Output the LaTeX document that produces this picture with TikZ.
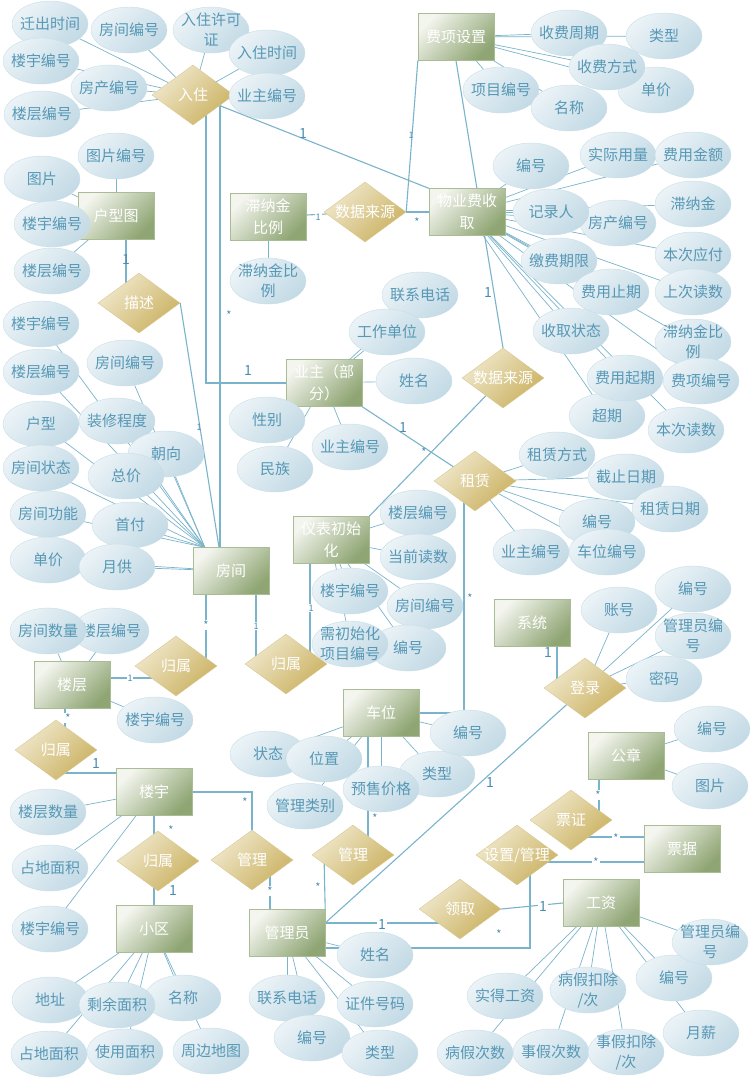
\documentclass[tikz,border=0pt]{standalone}
\usepackage{fontspec}
\setmainfont{Noto Sans CJK SC}
\usetikzlibrary{shapes.geometric}
\usetikzlibrary{backgrounds}
\usetikzlibrary{calc}
\definecolor{attrtop}{RGB}{235,243,247}
\definecolor{attrbot}{RGB}{195,218,229}
\definecolor{attrline}{RGB}{200,222,232}
\definecolor{attrtext}{RGB}{86,152,182}
\definecolor{enttop}{RGB}{243,245,238}
\definecolor{entbot}{RGB}{143,165,115}
\definecolor{entline}{RGB}{170,188,150}
\definecolor{reltop}{RGB}{240,232,204}
\definecolor{relbot}{RGB}{203,178,98}
\definecolor{relline}{RGB}{216,200,145}
\definecolor{linkc}{RGB}{122,180,204}
\definecolor{cardc}{RGB}{74,140,176}
\tikzset{
  attr/.style={ellipse, draw=attrline, top color=attrtop, bottom color=attrbot, shading angle=45,
    minimum width=76pt, minimum height=46pt, inner xsep=-10pt, inner ysep=-8pt,
    text=attrtext, align=center, font=\fontsize{15}{20}\selectfont},
  entity/.style={draw=entline, top color=enttop, bottom color=entbot, shading angle=45,
    minimum width=76pt, minimum height=47pt, inner sep=0pt,
    text=white, align=center, font=\fontsize{15}{22}\selectfont},
  rel/.style={diamond, draw=relline, top color=reltop, bottom color=relbot, shading angle=45,
    minimum width=82pt, minimum height=60pt, inner sep=-6pt,
    text=white, font=\fontsize{15}{18}\selectfont},
  link/.style={draw=linkc, line width=0.7pt},
  tie/.style={draw=linkc, line width=1.1pt},
  one/.style={text=cardc, inner sep=1pt, font=\fontsize{14}{14}\selectfont},
  onesm/.style={text=cardc, inner sep=1pt, font=\fontsize{9}{9}\selectfont},
  many/.style={text=cardc, inner sep=1pt, font=\fontsize{11}{11}\selectfont},
}
\begin{document}
\begin{tikzpicture}[x=1pt,y=-1pt]
\useasboundingbox (0,0) rectangle (752,1080);
\begin{pgfonlayer}{background}
  \fill[white] (0,0) rectangle (752,1080);
\end{pgfonlayer}

\node[entity] (feeset) at (456,37) {费项设置};
\node[entity] (layout) at (116,216) {户型图};
\node[entity] (latefee) at (268,217) {滞纳金\\比例};
\node[entity] (feecol) at (467,212) {物业费收\\取};
\node[entity] (owner) at (324,383) {业主（部\\分）};
\node[entity] (meter) at (331,540) {仪表初始\\化};
\node[entity] (room) at (231,571) {房间};
\node[entity] (system) at (532,623) {系统};
\node[entity] (floor) at (72,685) {楼层};
\node[entity] (carport) at (381,713) {车位};
\node[entity] (seal) at (626,756) {公章};
\node[entity] (building) at (154,792) {楼宇};
\node[entity] (bill) at (682,849) {票据};
\node[entity] (salary) at (601,903) {工资};
\node[entity] (estate) at (154,929) {小区};
\node[entity] (admin) at (287,933) {管理员};

\node[rel] (checkin) at (193,95) {入住};
\node[rel] (source1) at (365,212) {\makebox[0pt]{数据来源}};
\node[rel] (source2) at (503,378) {\makebox[0pt]{数据来源}};
\node[rel] (describe) at (139,303) {描述};
\node[rel] (lease) at (475,481) {租赁};
\node[rel] (belongroom) at (176,666) {归属};
\node[rel] (belongmeter) at (286,664) {归属};
\node[rel] (belongfloor) at (56,750) {归属};
\node[rel] (belongbuild) at (158,861) {归属};
\node[rel] (managebd) at (252,860) {管理};
\node[rel] (managecp) at (353,855) {管理};
\node[rel] (login) at (585,688) {登录};
\node[rel] (issue) at (571,820) {票证};
\node[rel] (setup) at (517,855) {\makebox[0pt]{设置/管理}};
\node[rel] (receive) at (460,909) {领取};

\node[attr] (ci1) at (50,24) {迁出时间};
\node[attr] (ci5) at (41,61) {楼宇编号};
\node[attr] (ci2) at (129,30) {房间编号};
\node[attr] (ci3) at (211,30) {入住许可\\证};
\node[attr] (ci4) at (267,53) {入住时间};
\node[attr] (ci6) at (109,88) {房产编号};
\node[attr] (ci7) at (42,114) {楼层编号};
\node[attr] (ci8) at (267,96) {业主编号};

\node[attr] (fs2) at (664,36) {类型};
\node[attr] (fs4) at (656,90) {单价};
\node[attr] (fs1) at (569,33) {收费周期};
\node[attr] (fs3) at (607,67) {收费方式};
\node[attr] (fs5) at (501,90) {项目编号};
\node[attr] (fs6) at (569,108) {名称};

\node[attr] (lf1) at (268,281) {滞纳金比\\例};

\node[attr] (fc1) at (531,166) {编号};
\node[attr] (fc2) at (618,155) {实际用量};
\node[attr] (fc3) at (693,155) {费用金额};
\node[attr] (fc6) at (693,204) {滞纳金};
\node[attr] (fc5) at (618,223) {房产编号};
\node[attr] (fc4) at (551,212) {记录人};
\node[attr] (fc7) at (693,255) {本次应付};
\node[attr] (fc8) at (559,261) {缴费期限};
\node[attr] (fc9) at (693,292) {上次读数};
\node[attr] (fc10) at (611,292) {费用止期};
\node[attr] (fc11) at (571,331) {收取状态};
\node[attr] (fc12) at (693,342) {滞纳金比\\例};
\node[attr] (fc15) at (607,416) {超期};
\node[attr] (fc13) at (625,378) {费用起期};
\node[attr] (fc14) at (701,381) {费项编号};
\node[attr] (fc16) at (686,430) {本次读数};

\node[attr] (ow1) at (420,295) {联系电话};
\node[attr] (ow2) at (387,332) {工作单位};
\node[attr] (ow3) at (414,381) {姓名};
\node[attr] (ow4) at (267,420) {性别};
\node[attr] (ow5) at (275,469) {民族};
\node[attr] (ow6) at (350,447) {业主编号};

\node[attr] (mt1) at (418,513) {楼层编号};
\node[attr] (mt2) at (418,557) {当前读数};
\node[attr] (mt3) at (350,591) {楼宇编号};
\node[attr] (mt4) at (425,606) {房间编号};
\node[attr] (mt6) at (408,648) {编号};
\node[attr] (mt5) at (350,644) {需初始化\\项目编号};

\node[attr] (ls1) at (557,455) {租赁方式};
\node[attr] (ls2) at (626,477) {截止日期};
\node[attr] (ls4) at (597,522) {编号};
\node[attr] (ls3) at (670,509) {租赁日期};
\node[attr] (ls5) at (531,552) {业主编号};
\node[attr] (ls6) at (607,552) {车位编号};

\node[attr] (ly1) at (116,156) {图片编号};
\node[attr] (ly2) at (42,179) {图片};
\node[attr] (ly3) at (52,224) {楼宇编号};
\node[attr] (ly4) at (52,271) {楼层编号};

\node[attr] (rm1) at (41,324) {楼宇编号};
\node[attr] (rm2) at (41,372) {楼层编号};
\node[attr] (rm3) at (125,363) {房间编号};
\node[attr] (rm4) at (41,424) {户型};
\node[attr] (rm5) at (117,421) {装修程度};
\node[attr] (rm6) at (166,454) {朝向};
\node[attr] (rm7) at (41,468) {房间状态};
\node[attr] (rm8) at (126,476) {总价};
\node[attr] (rm9) at (48,514) {房间功能};
\node[attr] (rm10) at (130,525) {首付};
\node[attr] (rm11) at (48,560) {单价};
\node[attr] (rm12) at (117,567) {月供};

\node[attr] (fl2) at (111,631) {楼层编号};
\node[attr] (fl1) at (48,631) {房间数量};
\node[attr] (fl3) at (155,720) {楼宇编号};

\node[attr] (bd1) at (48,812) {楼层数量};
\node[attr] (bd2) at (50,868) {占地面积};
\node[attr] (bd3) at (50,929) {楼宇编号};

\node[attr] (es1) at (50,1000) {地址};
\node[attr] (es3) at (183,998) {名称};
\node[attr] (es2) at (117,1005) {剩余面积};
\node[attr] (es4) at (49,1054) {占地面积};
\node[attr] (es5) at (125,1052) {使用面积};
\node[attr] (es6) at (211,1051) {周边地图};

\node[attr] (cp5) at (268,754) {状态};
\node[attr] (cp4) at (324,759) {位置};
\node[attr] (cp6) at (305,806) {管理类别};
\node[attr] (cp2) at (437,774) {类型};
\node[attr] (cp3) at (381,789) {预售价格};
\node[attr] (cp1) at (468,733) {编号};

\node[attr] (ad1) at (375,955) {姓名};
\node[attr] (ad2) at (287,998) {联系电话};
\node[attr] (ad3) at (375,1004) {证件号码};
\node[attr] (ad4) at (312,1038) {编号};
\node[attr] (ad5) at (380,1053) {类型};

\node[attr] (lg1) at (619,610) {账号};
\node[attr] (lg2) at (693,589) {编号};
\node[attr] (lg3) at (693,636) {管理员编\\号};
\node[attr] (lg4) at (664,679) {密码};

\node[attr] (sl1) at (712,729) {编号};
\node[attr] (sl2) at (710,786) {图片};

\node[attr] (sa2) at (674,978) {编号};
\node[attr] (sa1) at (710,942) {管理员编\\号};
\node[attr] (sa3) at (701,1033) {月薪};
\node[attr] (sa4) at (588,990) {病假扣除\\/次};
\node[attr] (sa5) at (505,996) {实得工资};
\node[attr] (sa6) at (475,1053) {病假次数};
\node[attr] (sa7) at (551,1052) {事假次数};
\node[attr] (sa8) at (626,1052) {事假扣除\\/次};

\begin{pgfonlayer}{background}
  \foreach \a in {ci1,ci2,ci3,ci4,ci5,ci6,ci7,ci8} \draw[link] (\a) -- (checkin);
  \foreach \a in {fs1,fs2,fs3,fs4,fs5,fs6} \draw[link] (\a) -- (feeset);
  \draw[link] (lf1) -- (latefee);
  \foreach \a in {fc1,fc2,fc3,fc4,fc5,fc6,fc7,fc8,fc9,fc10,fc11,fc12,fc13,fc14,fc15,fc16}
    \draw[link] (\a) -- (feecol);
  \foreach \a in {ow1,ow2,ow3,ow4,ow5,ow6} \draw[link] (\a) -- (owner);
  \foreach \a in {mt1,mt2,mt3,mt4,mt5,mt6} \draw[link] (\a) -- (meter);
  \foreach \a in {ls1,ls2,ls3,ls4,ls5,ls6} \draw[link] (\a) -- (lease);
  \foreach \a in {ly1,ly2,ly3,ly4} \draw[link] (\a) -- (layout);
  \foreach \a in {rm1,rm2,rm3,rm4,rm5,rm6,rm7,rm8,rm9,rm10}
    \draw[link] (\a) -- ($(room.north west)+(12,0)$);
  \foreach \a in {rm11,rm12} \draw[link] (\a) -- (room);
  \foreach \a in {fl1,fl2,fl3} \draw[link] (\a) -- (floor);
  \foreach \a in {bd1,bd2,bd3} \draw[link] (\a) -- (building);
  \foreach \a in {es1,es2,es3,es4,es5,es6} \draw[link] (\a) -- (estate);
  \foreach \a in {cp1,cp2,cp3,cp4,cp5,cp6} \draw[link] (\a) -- (carport);
  \foreach \a in {ad1,ad2,ad3,ad4,ad5} \draw[link] (\a) -- (admin);
  \foreach \a in {lg1,lg2,lg3,lg4} \draw[link] (\a) -- (login);
  \foreach \a in {sl1,sl2} \draw[link] (\a) -- (seal);
  \foreach \a in {sa1,sa2,sa3,sa4,sa5,sa6,sa7,sa8} \draw[link] (\a) -- (salary);

  \draw[tie] ($(checkin.center)+(13,0)$) |- (owner.west);
  \draw[tie] ($(checkin.center)+(27,0)$) -- ($(room.north)+(-11,0)$);
  \draw[tie] (checkin) -- (feecol.north west);
  \draw[tie] (latefee) -- (source1);
  \draw[tie] (source1) -- (feecol);
  \draw[tie] (source1.east) -- (feeset.south west);
  \draw[tie] (feeset.south) -- (source2.north);
  \draw[tie] (source2) -- (meter.north east);
  \draw[tie] (owner.south east) -- (lease);
  \draw[tie] ($(lease.center)+(-11,0)$) |- (carport.east);
  \draw[tie] ($(layout.south)+(10,0)$) -- ($(describe.center)+(-13,0)$);
  \draw[tie] (describe.east) -- ($(room.north)+(-12,0)$);
  \draw[tie] ($(room.south)+(-25,0)$) -- ($(belongroom.center)+(30,0)$);
  \draw[tie] ($(floor.east)+(0,-7)$) -- ($(belongroom.center)+(0,12)$);
  \draw[tie] ($(room.south)+(25,0)$) -- ($(belongmeter.center)+(-30,0)$);
  \draw[tie] ($(meter.south)+(-21,0)$) -- ($(belongmeter.center)+(24,0)$);
  \draw[tie] ($(floor.south)+(-7,0)$) -- ($(belongfloor.center)+(9,-10)$);
  \draw[tie] ($(belongfloor.center)+(7,23)$) -- ($(building.west)+(0,-19)$);
  \draw[tie] (building.south) -- ($(belongbuild.center)+(-4,0)$);
  \draw[tie] ($(belongbuild.center)+(-4,0)$) -- (estate.north);
  \draw[tie] (building.east) -| (managebd.north);
  \draw[tie] ($(managebd.center)+(18,0)$) -- ($(admin.north)+(-17,0)$);
  \draw[tie] ($(carport.south)+(-13,0)$) -- ($(managecp.center)+(15,0)$);
  \draw[tie] ($(managecp.center)+(-29,0)$) -- (admin.north east);
  \draw[tie] ($(admin.east)+(0,-10)$) -- (login);
  \draw[tie] ($(system.south)+(25,0)$) -- ($(login.center)+(-28,0)$);
  \draw[tie] ($(admin.east)+(0,-10)$) -- ($(receive.center)+(0,14)$);
  \draw[tie] (receive.east) -- (salary.west);
  \draw[tie] ($(admin.east)+(0,15)$) -| ($(setup.center)+(13,0)$);
  \draw[tie] ($(setup.center)+(0,7)$) -- ($(bill.west)+(0,13)$);
  \draw[tie] ($(issue.center)+(0,17)$) -- ($(bill.west)+(0,-12)$);
  \draw[tie] ($(seal.south)+(-27,0)$) -- ($(issue.center)+(28,0)$);
\end{pgfonlayer}

\node[one] (c1) at (303,134) {1};
\node[onesm] (c2) at (411,135) {1};
\node[onesm,fill=white] (c3) at (318,217) {1};
\node[many] (c4) at (417,222) {*};
\node[one] (c5) at (488,293) {1};
\node[one] (c6) at (248,371) {1};
\node[one] (c7) at (403,427) {1};
\node[many] (c8) at (424,452) {*};
\node[many] (c9) at (470,598) {*};
\node[one] (c10) at (126,260) {1};
\node[onesm] (c11) at (199,427) {1};
\node[many] (c12) at (229,315) {*};
\node[many,fill=white] (c13) at (206,625) {*};
\node[onesm,fill=white] (c14) at (130,678) {1};
\node[onesm,fill=white] (c15) at (256,626) {1};
\node[onesm,fill=white] (c16) at (311,608) {1};
\node[many,fill=white] (c17) at (68,718) {*};
\node[one] (c18) at (96,763) {1};
\node[many] (c19) at (171,830) {*};
\node[one] (c20) at (173,890) {1};
\node[many] (c21) at (245,802) {*};
\node[many,fill=white] (c22) at (270,891) {*};
\node[many] (c23) at (375,818) {*};
\node[many] (c24) at (318,887) {*};
\node[one] (c25) at (548,652) {1};
\node[one] (c26) at (490,782) {1};
\node[one,fill=white] (c27) at (382,924) {1};
\node[one,fill=white] (c28) at (543,906) {1};
\node[many] (c29) at (499,934) {*};
\node[many,fill=white] (c30) at (596,862) {*};
\node[many,fill=white] (c31) at (616,838) {*};
\node[many,fill=white] (c32) at (598,795) {*};
\end{tikzpicture}
\end{document}
